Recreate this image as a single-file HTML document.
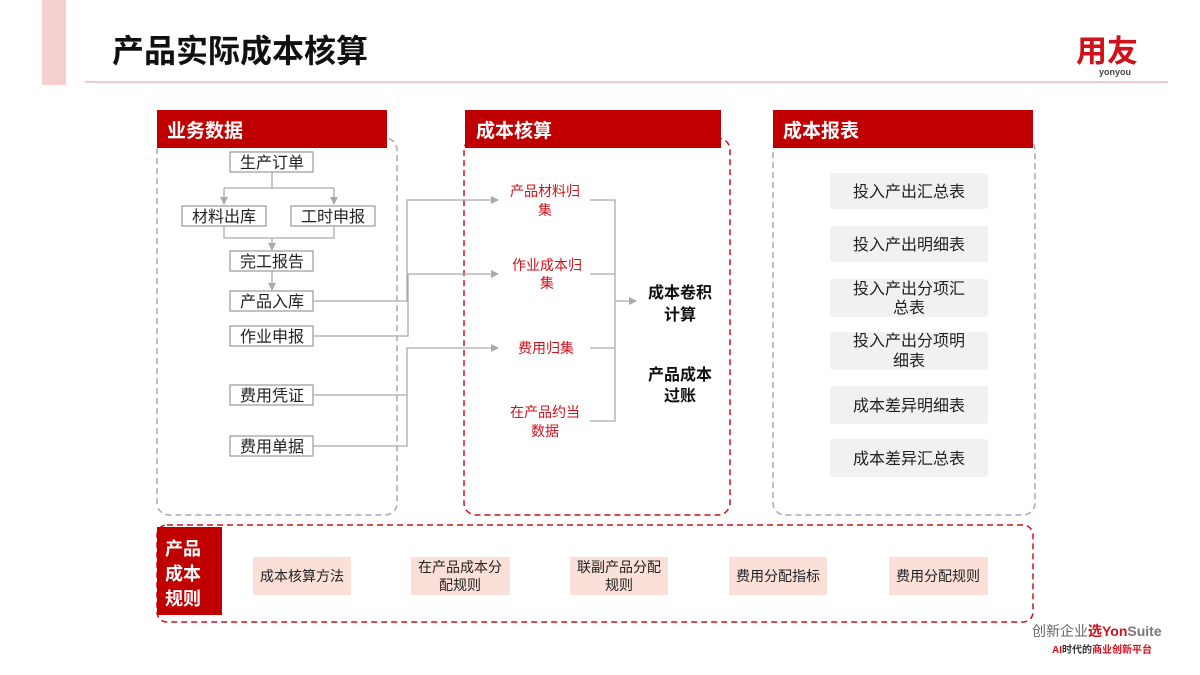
<!DOCTYPE html>
<html><head><meta charset="utf-8"><style>
html,body{margin:0;padding:0;background:#fff;}
svg{display:block;}
text{font-family:"Liberation Sans","Noto Sans CJK SC",sans-serif;}
</style></head><body>
<svg width="1200" height="675" viewBox="0 0 1200 675" xmlns="http://www.w3.org/2000/svg">
<defs>
<marker id="ar" markerWidth="8" markerHeight="8" refX="7" refY="4" orient="auto" markerUnits="userSpaceOnUse">
<path d="M0,0 L8,4 L0,8 z" fill="#aaa"/></marker>
</defs>
<rect x="42" y="0" width="24" height="85" fill="#f6cfcf"/>
<text x="112" y="62" font-size="32" font-weight="bold" fill="#111">产品实际成本核算</text>
<line x1="85" y1="82" x2="1168" y2="82" stroke="#e59a9a" stroke-width="1"/>
<text x="1076" y="62" font-size="31" font-weight="bold" fill="#d0101b">用友</text>
<text x="1099" y="75" font-size="9" font-weight="bold" fill="#444">yonyou</text>

<!-- panel 1 -->
<rect x="157" y="138" width="240" height="377" rx="12" fill="none" stroke="#aaa" stroke-width="1.5" stroke-dasharray="6,4"/>
<rect x="157" y="110" width="230" height="38" fill="#c00000"/>
<text x="167" y="137" font-size="19" font-weight="bold" fill="#fff">业务数据</text>
<!-- panel 2 -->
<rect x="464" y="138" width="266" height="377" rx="12" fill="none" stroke="#d0101b" stroke-width="1.5" stroke-dasharray="6,4"/>
<rect x="465" y="110" width="256" height="38" fill="#c00000"/>
<text x="476" y="137" font-size="19" font-weight="bold" fill="#fff">成本核算</text>
<!-- panel 3 -->
<rect x="773" y="138" width="262" height="377" rx="12" fill="none" stroke="#aaa" stroke-width="1.5" stroke-dasharray="6,4"/>
<rect x="773" y="110" width="260" height="38" fill="#c00000"/>
<text x="783" y="137" font-size="19" font-weight="bold" fill="#fff">成本报表</text>

<!-- connectors panel1 -->
<g stroke="#aaa" stroke-width="1.3" fill="none">
<path d="M272,172 V188 M224,188 H334 M224,188 V204" marker-end="url(#ar)"/>
<path d="M334,188 V204" marker-end="url(#ar)"/>
<path d="M224,226 V238 H334 V226 M272,238 V250" marker-end="url(#ar)"/>
<path d="M272,271 V290" marker-end="url(#ar)"/>
<path d="M313,301 H407 V200 H498" marker-end="url(#ar)"/>
<path d="M313,336 H408 V274 H498" marker-end="url(#ar)"/>
<path d="M313,395 H407 V348 H498" marker-end="url(#ar)"/>
<path d="M313,446 H407 V395"/>
<path d="M590,200 H615 V421 H590 M590,274 H615 M590,348 H615"/>
<path d="M615,301 H636" marker-end="url(#ar)"/>
</g>
<g fill="#fff" stroke="#999" stroke-width="1.2">
<rect x="230" y="152" width="83" height="20"/>
<rect x="182" y="206" width="84" height="20"/>
<rect x="291" y="206" width="84" height="20"/>
<rect x="230" y="251" width="83" height="20"/>
<rect x="230" y="291" width="83" height="20"/>
<rect x="230" y="326" width="83" height="20"/>
<rect x="230" y="385" width="83" height="20"/>
<rect x="230" y="436" width="83" height="20"/>
</g>
<g font-size="16" fill="#222" text-anchor="middle">
<text x="272" y="168">生产订单</text>
<text x="224" y="222">材料出库</text>
<text x="333" y="222">工时申报</text>
<text x="272" y="267">完工报告</text>
<text x="272" y="307">产品入库</text>
<text x="272" y="342">作业申报</text>
<text x="272" y="401">费用凭证</text>
<text x="272" y="452">费用单据</text>
</g>
<g font-size="14" fill="#d0101b" text-anchor="middle">
<text x="545" y="196">产品材料归</text><text x="545" y="215">集</text>
<text x="547" y="270">作业成本归</text><text x="547" y="288">集</text>
<text x="546" y="353">费用归集</text>
<text x="545" y="417">在产品约当</text><text x="545" y="436">数据</text>
</g>
<g font-size="16" font-weight="bold" fill="#111" text-anchor="middle">
<text x="680" y="298">成本卷积</text><text x="680" y="320">计算</text>
<text x="680" y="380">产品成本</text><text x="680" y="401">过账</text>
</g>

<!-- panel 3 boxes -->
<g fill="#f1f1f1">
<rect x="830" y="173" width="158" height="36" rx="3"/>
<rect x="830" y="226" width="158" height="36" rx="3"/>
<rect x="830" y="279" width="158" height="38" rx="3"/>
<rect x="830" y="332" width="158" height="38" rx="3"/>
<rect x="830" y="386" width="158" height="38" rx="3"/>
<rect x="830" y="439" width="158" height="38" rx="3"/>
</g>
<g font-size="16" fill="#222" text-anchor="middle">
<text x="909" y="197">投入产出汇总表</text>
<text x="909" y="250">投入产出明细表</text>
<text x="909" y="294">投入产出分项汇</text><text x="909" y="313">总表</text>
<text x="909" y="346">投入产出分项明</text><text x="909" y="366">细表</text>
<text x="909" y="411">成本差异明细表</text>
<text x="909" y="464">成本差异汇总表</text>
</g>

<!-- bottom -->
<rect x="157" y="525" width="876" height="97" rx="10" fill="none" stroke="#d0101b" stroke-width="1.5" stroke-dasharray="6,4"/>
<rect x="157" y="527" width="65" height="88" fill="#c00000"/>
<g font-size="18" font-weight="bold" fill="#fff">
<text x="165" y="555">产品</text><text x="165" y="580">成本</text><text x="165" y="605">规则</text>
</g>
<g fill="#fbe0da">
<rect x="253" y="557" width="98" height="38"/>
<rect x="411" y="557" width="99" height="38"/>
<rect x="570" y="557" width="98" height="38"/>
<rect x="729" y="557" width="98" height="38"/>
<rect x="889" y="557" width="99" height="38"/>
</g>
<g font-size="14" fill="#222" text-anchor="middle">
<text x="302" y="581">成本核算方法</text>
<text x="460" y="572">在产品成本分</text><text x="460" y="590">配规则</text>
<text x="619" y="572">联副产品分配</text><text x="619" y="590">规则</text>
<text x="778" y="581">费用分配指标</text>
<text x="938" y="581">费用分配规则</text>
</g>

<text x="1032" y="636" font-size="14" fill="#666">创新企业<tspan fill="#d0101b" font-weight="bold">选</tspan><tspan fill="#d0101b" font-weight="bold">Yon</tspan><tspan fill="#777" font-weight="bold">Suite</tspan></text>
<text x="1052" y="653" font-size="10" fill="#333" font-weight="bold"><tspan fill="#d0101b">AI</tspan>时代的<tspan fill="#d0101b">商业创新平台</tspan></text>
</svg>
</body></html>
